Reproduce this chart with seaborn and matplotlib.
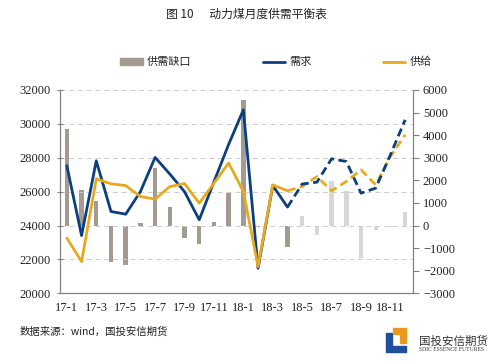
import numpy as np
import pandas as pd
import seaborn as sns
import matplotlib.pyplot as plt
from matplotlib.lines import Line2D
from matplotlib.patches import Patch, Polygon

# months 17-1 .. 18-12
months = [f"17-{m}" for m in range(1, 13)] + [f"18-{m}" for m in range(1, 13)]
tick_labels = ["17-1", "17-3", "17-5", "17-7", "17-9", "17-11",
               "18-1", "18-3", "18-5", "18-7", "18-9", "18-11"]

# supply-demand gap (right axis)
gap = [4280, 1570, 1080, -1600, -1740, 100, 2540, 840, -530, -820, 150, 1430,
       5560, -50, -50, -930, 440, -410, 1990, 1540, -1420, -190, -70, 610]
# demand (left axis)
demand = [27530, 23410, 27820, 24830, 24670, 26000, 28020, 27040, 26000, 24340, 26580, 28790,
          30830, 21480, 26360, 25090, 26450, 26560, 27940, 27780, 25910, 26210, 28180, 30240]
# supply (left axis)
supply = [23260, 21870, 26760, 26460, 26360, 25710, 25560, 26300, 26480, 25320, 26500, 27690,
          26010, 21580, 26400, 26050, 26300, 26890, 26050, 26600, 27290, 26400, 28080, 29360]

n_actual = 16  # first 16 months are actual, the rest forecast (dashed)

BLUE = "#0d3f80"
GOLD = "#e9a91f"
BAR = "#a39a92"
BAR_LIGHT = "#dad6d3"

sns.set_style("white")
plt.rcParams['font.family'] = ['Noto Sans CJK SC', 'DejaVu Sans']

fig = plt.figure(figsize=(5, 3.61), dpi=100)
ax = fig.add_axes([0.119, 0.1875, 0.706, 0.5632])
ax2 = ax.twinx()

df = pd.DataFrame({"month": months, "gap": gap, "demand": demand, "supply": supply,
                   "x": np.arange(len(months))})

# bars on the right axis
bar_colors = [BAR if i < n_actual else BAR_LIGHT for i in range(len(months))]
sns.barplot(data=df, x="month", y="gap", hue="month", palette=bar_colors,
            legend=False, width=0.3, ax=ax2, saturation=1, linewidth=0)

# lines on the left axis
act = df.iloc[:n_actual]
fc = df.iloc[n_actual - 1:]
sns.lineplot(data=act, x="x", y="demand", color=BLUE, lw=2, ax=ax)
sns.lineplot(data=act, x="x", y="supply", color=GOLD, lw=2, ax=ax)
sns.lineplot(data=fc, x="x", y="supply", color=GOLD, lw=2, ax=ax,
             linestyle=(0, (3, 1.6)))
sns.lineplot(data=fc, x="x", y="demand", color=BLUE, lw=2, ax=ax,
             linestyle=(0, (3, 1.6)))

ax.set_zorder(2)
ax.patch.set_visible(False)

ax.set_ylim(20000, 32000)
ax.set_yticks(np.arange(20000, 32001, 2000))
ax2.set_ylim(-3000, 6000)
ax2.set_yticks(np.arange(-3000, 6001, 1000))
ax.set_xlim(-0.5, len(months) - 0.5)

ax.set_xticks(np.arange(-0.5, len(months), 1))
ax.set_xticklabels([])
ax.set_xticks(np.arange(0, len(months), 2), minor=True)
ax.set_xticklabels(tick_labels, minor=True)
ax.tick_params(axis="x", which="major", length=4, width=0.8, color="#808080", direction="out")
ax.tick_params(axis="x", which="minor", length=0, pad=6)
ax.tick_params(axis="y", length=5, width=0.8, color="#808080", direction="inout", pad=4)
ax2.tick_params(axis="y", length=4, width=0.8, color="#808080", direction="out")

for a in (ax, ax2):
    a.set_xlabel("")
    a.set_ylabel("")
    for lab in a.get_xticklabels(which="both") + a.get_yticklabels():
        lab.set_fontfamily("Liberation Serif")
        lab.set_fontsize(9)
        lab.set_color("#222222")
    for s in a.spines.values():
        s.set_color("#808080")
        s.set_linewidth(0.8)
    a.spines["top"].set_visible(False)

ax.grid(axis="y", color="#cccccc", linestyle=(0, (5, 4)), lw=0.7)
ax2.grid(False)

# title and legend
fig.text(0.492, 0.961, "图 10      动力煤月度供需平衡表", ha="center", va="center",
         fontsize=8.5, color="#222222")
handles = [Patch(color=BAR), Line2D([], [], color=BLUE, lw=2), Line2D([], [], color=GOLD, lw=2)]
leg = fig.legend(handles, ["供需缺口", "需求", "供给"], loc="center", ncol=3,
                 bbox_to_anchor=(0.552, 0.828), frameon=False, handlelength=2.0,
                 handleheight=0.5, columnspacing=6.4, handletextpad=0.4,
                 prop={"size": 8, "style": "italic"})

# source and logo
fig.text(0.04, 0.08, "数据来源：wind，国投安信期货", ha="left", va="center", fontsize=7.5,
         color="#222222")
fig.patches.append(Polygon([[0.772, 0.0776], [0.784, 0.0776], [0.784, 0.0416],
                            [0.812, 0.0416], [0.812, 0.0249], [0.772, 0.0249]], closed=True,
                           transform=fig.transFigure, color="#1d4f9a"))
fig.patches.append(Polygon([[0.786, 0.0914], [0.812, 0.0914], [0.812, 0.0499],
                            [0.800, 0.0499], [0.800, 0.0748], [0.786, 0.0748]], closed=True,
                           transform=fig.transFigure, color="#e99a1c"))
fig.text(0.838, 0.0554, "国投安信期货", ha="left", va="center", fontsize=8.3, color="#333333")
fig.text(0.838, 0.0305, "SDIC ESSENCE FUTURES", ha="left", va="center", fontsize=4.1,
         family="Liberation Serif", color="#333333")

fig.savefig("out.png", dpi=100, facecolor="white")
